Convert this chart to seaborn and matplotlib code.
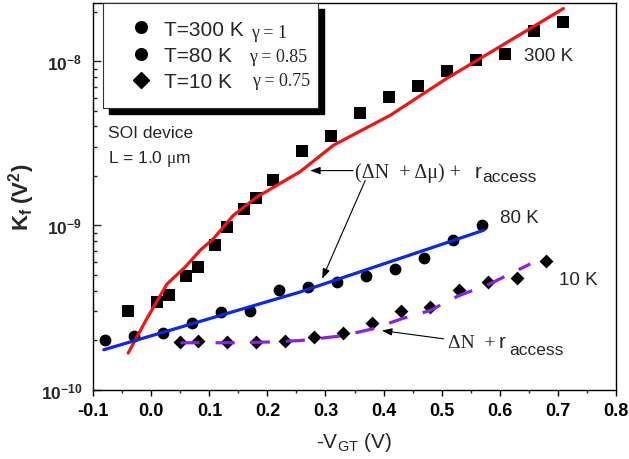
import matplotlib.pyplot as plt
import seaborn as sns
from matplotlib.lines import Line2D
from matplotlib.patches import Rectangle
from matplotlib.ticker import NullFormatter

# --- data ---
# 300 K, squares
v300 = [-0.04, 0.01, 0.03, 0.06, 0.08, 0.11, 0.13, 0.16, 0.18, 0.21, 0.26, 0.31,
        0.36, 0.41, 0.46, 0.51, 0.56, 0.61, 0.66, 0.71]
k300 = [3.03e-10, 3.41e-10, 3.78e-10, 4.95e-10, 5.55e-10, 7.55e-10, 9.77e-10, 1.26e-9,
        1.47e-9, 1.88e-9, 2.85e-9, 3.52e-9, 4.86e-9, 6.06e-9, 7.08e-9, 8.69e-9,
        1.01e-8, 1.11e-8, 1.52e-8, 1.74e-8]
# 80 K, circles
v80 = [-0.08, -0.03, 0.02, 0.07, 0.12, 0.17, 0.22, 0.27, 0.32, 0.37, 0.42, 0.47, 0.52, 0.57]
k80 = [2.01e-10, 2.13e-10, 2.22e-10, 2.54e-10, 2.97e-10, 3.03e-10, 4.06e-10, 4.20e-10,
       4.52e-10, 4.91e-10, 5.45e-10, 6.32e-10, 8.11e-10, 1.01e-9]
# 10 K, diamonds
v10 = [0.05, 0.08, 0.13, 0.18, 0.23, 0.28, 0.33, 0.38, 0.43, 0.48, 0.53, 0.58, 0.63, 0.68]
k10 = [1.94e-10, 1.97e-10, 1.96e-10, 1.94e-10, 1.99e-10, 2.10e-10, 2.21e-10, 2.54e-10,
       3.03e-10, 3.18e-10, 4.02e-10, 4.52e-10, 4.78e-10, 6.03e-10]

# model curves
fit300_v = [-0.040, -0.008, 0.027, 0.058, 0.084, 0.107, 0.141, 0.182, 0.256, 0.314,
            0.412, 0.509, 0.561, 0.710]
fit300_k = [1.67e-10, 2.70e-10, 4.40e-10, 5.57e-10, 7.05e-10, 8.30e-10, 1.15e-9, 1.49e-9,
            2.12e-9, 3.08e-9, 4.69e-9, 7.85e-9, 1.01e-8, 2.09e-8]
fit80_v = [-0.082, 0.256, 0.572]
fit80_k = [1.75e-10, 3.93e-10, 9.33e-10]
fit10_v = [0.05, 0.10, 0.15, 0.20, 0.256, 0.33, 0.38, 0.434, 0.48, 0.53, 0.58, 0.653]
fit10_k = [1.93e-10, 1.93e-10, 1.93e-10, 1.95e-10, 1.99e-10, 2.13e-10, 2.34e-10,
           2.72e-10, 3.03e-10, 3.74e-10, 4.35e-10, 5.83e-10]

xticks = [-0.1, 0.0, 0.1, 0.2, 0.3, 0.4, 0.5, 0.6, 0.7, 0.8]
xtick_labels = ["-0.1", "0.0", "0.1", "0.2", "0.3", "0.4", "0.5", "0.6", "0.7", "0.8"]
yticks = [1e-10, 1e-9, 1e-8]
ytick_labels = [r"$\mathbf{10^{-10}}$", r"$\mathbf{10^{-9}}$", r"$\mathbf{10^{-8}}$"]

legend_labels = ["T=300 K", "T=80 K", "T=10 K"]
gamma_labels = ["\u03b3 = 1", "\u03b3 = 0.85", "\u03b3 = 0.75"]

sns.set_theme(style="ticks")
plt.rcParams.update({
    "font.family": ["Liberation Sans", "DejaVu Sans"],
    "mathtext.fontset": "custom",
    "mathtext.rm": "Liberation Serif",
    "mathtext.sf": "Liberation Sans",
    "mathtext.bf": "Liberation Sans:bold",
    "mathtext.it": "Liberation Serif:italic",
    "axes.unicode_minus": False,
})

fig = plt.figure(figsize=(6.29, 4.60), dpi=100)
ax = fig.add_axes([0.1484, 0.1507, 0.8304, 0.8407])

# --- measured points ---
sns.scatterplot(x=v300, y=k300, marker="s", s=72, color="black", linewidth=0, ax=ax, zorder=3)
sns.scatterplot(x=v80, y=k80, marker="o", s=72, color="black", linewidth=0, ax=ax, zorder=3)
sns.scatterplot(x=v10, y=k10, marker="D", s=50, color="black", linewidth=0, ax=ax, zorder=3)

# --- model lines (drawn over the markers) ---
sns.lineplot(x=fit300_v, y=fit300_k, sort=False, color="#f01414", lw=2.3, ax=ax, zorder=4)
sns.lineplot(x=fit80_v, y=fit80_k, sort=False, color="#0a28e6", lw=2.3, ax=ax, zorder=4)
sns.lineplot(x=fit10_v, y=fit10_k, sort=False, color="#8a22e6", lw=2.3,
             linestyle=(0, (6, 5)), ax=ax, zorder=4)

ax.set_yscale("log")
ax.set_xlim(-0.1, 0.8)
ax.set_ylim(1e-10, 2.26e-8)

ax.set_xticks(xticks)
ax.set_xticklabels(xtick_labels, fontsize=13, fontweight="bold")
ax.set_xticks([x + 0.05 for x in xticks[:-1]], minor=True)
ax.set_yticks(yticks)
ax.set_yticklabels(ytick_labels, fontsize=12.5)
ax.yaxis.set_minor_formatter(NullFormatter())

ax.tick_params(axis="x", which="major", direction="out", length=4, width=1, pad=5,
               colors="black", bottom=True, top=False)
ax.tick_params(axis="x", which="minor", direction="out", length=2.5, width=1,
               bottom=True, top=False)
ax.tick_params(axis="y", which="major", direction="in", length=5.5, width=1, pad=8,
               left=True, right=False)
ax.tick_params(axis="y", which="minor", direction="in", length=3, width=1,
               left=True, right=False)
for sp in ax.spines.values():
    sp.set_visible(True)
    sp.set_color("black")
    sp.set_linewidth(1.0)

ax.set_xlabel("-V$_{\\mathsf{GT}}$ (V)", fontsize=15, labelpad=8)
ax.set_ylabel(r"$\mathbf{K_f\ (V^2)}$", fontsize=16, labelpad=2.5)

# --- curve labels ---
ax.text(0.6426, 1.01e-8, "300 K", fontsize=13.5)
ax.text(0.6012, 1.05e-9, "80 K", fontsize=13.5)
ax.text(0.7017, 4.42e-10, "10 K", fontsize=13.5)
ax.text(-0.074, 3.46e-9, "SOI device", fontsize=12.5)
ax.text(-0.074, 2.44e-9, "L = 1.0 $\\mathrm{\\mu}$m", fontsize=12.5)

# --- model annotations ---
serif = ["Liberation Serif", "DejaVu Serif"]
ax.text(0.3512, 1.97e-9, "(\u0394N  + \u0394\u03bc) +", fontsize=14.5, family=serif)
ax.text(0.5564, 1.97e-9, "r", fontsize=15)
ax.text(0.5697, 1.87e-9, "access", fontsize=12.5)
ax.text(0.5103, 1.815e-10, "\u0394N  +", fontsize=14, family=serif)
ax.text(0.5990, 1.815e-10, "r", fontsize=15)
ax.text(0.6170, 1.65e-10, "access", fontsize=12.5)

arrow = dict(arrowstyle="-|>,head_length=0.6,head_width=0.22", color="black", lw=0.8,
             shrinkA=0, shrinkB=0, mutation_scale=10)
ax.annotate("", xy=(0.2736, 2.156e-9), xytext=(0.3477, 2.156e-9), arrowprops=arrow)
ax.annotate("", xy=(0.2943, 4.73e-10), xytext=(0.3684, 1.874e-9), arrowprops=arrow)
ax.annotate("", xy=(0.3972, 2.29e-10), xytext=(0.5034, 2.04e-10), arrowprops=arrow)

# --- legend with a solid black drop shadow ---
handles = [
    Line2D([], [], marker="o", ls="none", color="black", markersize=8.4),
    Line2D([], [], marker="o", ls="none", color="black", markersize=8.4),
    Line2D([], [], marker="D", ls="none", color="black", markersize=8.0),
]
leg = ax.legend(handles, legend_labels, loc="upper left",
                bbox_to_anchor=(0.0176, 0.731, 0.4126, 0.269), mode="expand",
                borderaxespad=0, fancybox=False, framealpha=1, edgecolor="#333333",
                prop={"family": "Liberation Sans", "size": 15}, borderpad=0.8,
                handlelength=2.1, handletextpad=0.05, labelspacing=0.35)
leg.get_frame().set_linewidth(0.8)
leg.set_zorder(6)

fig.canvas.draw()
bb = leg.get_frame().get_window_extent().transformed(ax.transAxes.inverted())
dx, dy = 6 / (0.8304 * 629), 6 / (0.8407 * 460)
ax.add_patch(Rectangle((bb.x0 + dx, bb.y0 - dy), bb.width, bb.height, transform=ax.transAxes,
                       color="black", zorder=5.5, clip_on=False))
for (gx, gy), lab in zip([(0.302, 0.912), (0.298, 0.850), (0.3033, 0.788)], gamma_labels):
    ax.text(gx, gy, lab, transform=ax.transAxes, fontsize=13, family=serif, zorder=7)

fig.savefig("out.png", dpi=100)
